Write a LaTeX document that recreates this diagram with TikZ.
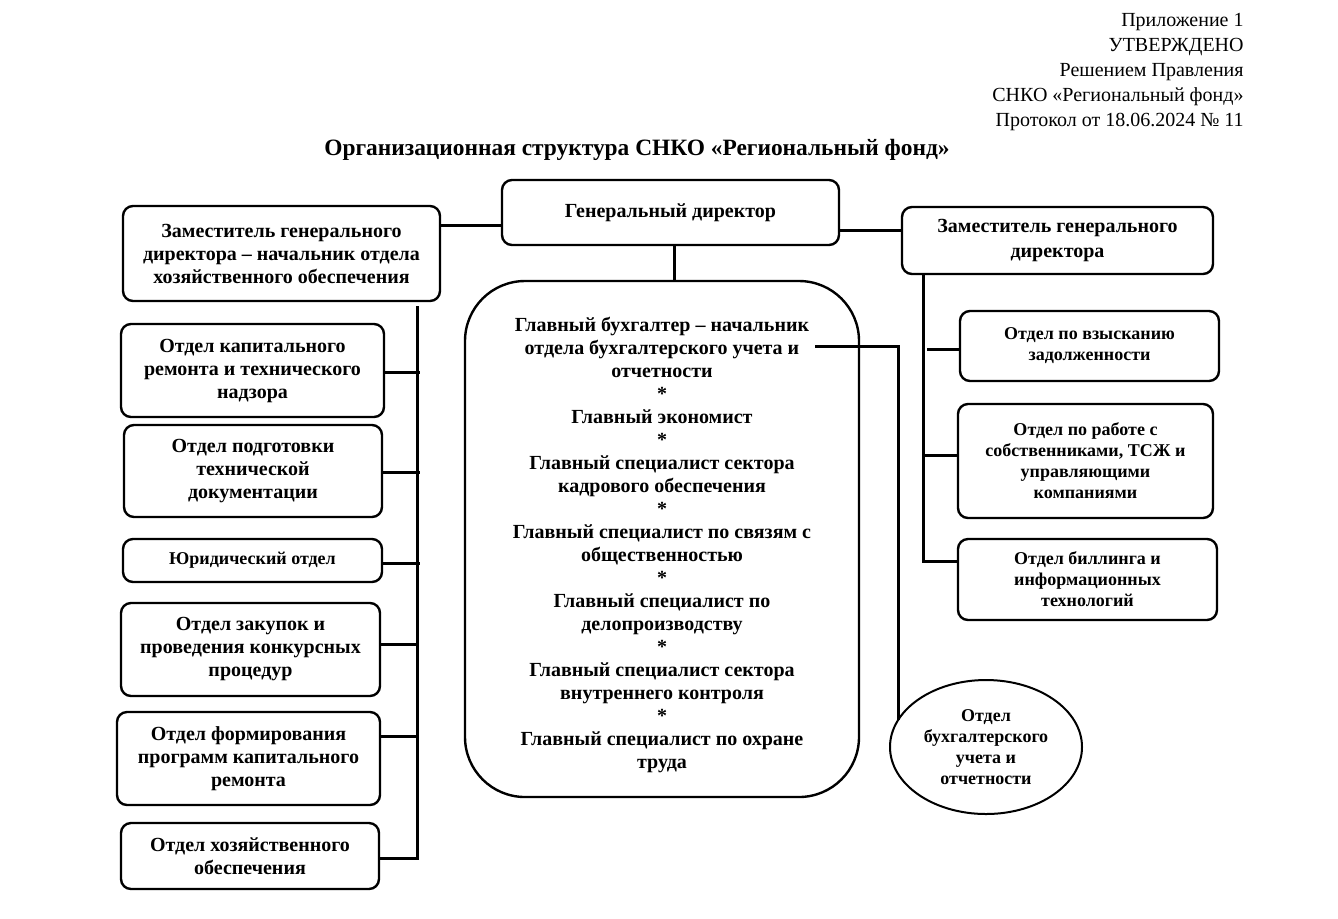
\documentclass[tikz,border=0pt]{standalone}
\usepackage{fontspec}
\setmainfont{Liberation Serif}
\usetikzlibrary{shapes.geometric}
\tikzset{
  box/.style={draw, line width=1.2pt, rounded corners=5pt, inner sep=0pt, align=center,
    font=\fontsize{10}{11.5}\selectfont\bfseries},
  sbox/.style={box, font=\fontsize{9}{10.5}\selectfont\bfseries},
  conn/.style={line width=1.5pt},
}
\begin{document}
\begin{tikzpicture}[x=0.5pt,y=-0.5pt]
\useasboundingbox (0,0) rectangle (1338,918);
% header
\node[anchor=east, align=right, inner sep=0pt, font=\fontsize{10}{12.5}\selectfont] (hdr) at (1244,72)
  {Приложение 1\\УТВЕРЖДЕНО\\Решением Правления\\СНКО «Региональный фонд»\\Протокол от 18.06.2024 № 11};
\node[inner sep=0pt, font=\fontsize{11.7}{14}\selectfont\bfseries] (title) at (637,150)
  {Организационная структура СНКО «Региональный фонд»};
% top level
\node[box, minimum width=168.5pt, minimum height=32.5pt] (gd) at (670.5,212.5) {Генеральный директор};
\node[box, minimum width=158.5pt, minimum height=47.5pt] (ld) at (281.5,253.5)
  {Заместитель генерального\\директора – начальник отдела\\хозяйственного обеспечения};
\node[box, minimum width=155.5pt, minimum height=33.5pt, font=\fontsize{10}{12.5}\selectfont\bfseries] (rd) at (1057.5,240.5)
  {Заместитель генерального\\директора};
% central
\node[box, rounded corners=30pt, minimum width=197pt, minimum height=258pt] (cb) at (662,539)
  {\rule{0pt}{13pt}Главный бухгалтер – начальник\\отдела бухгалтерского учета и\\отчетности\\*\\Главный экономист\\*\\
   Главный специалист сектора\\кадрового обеспечения\\*\\Главный специалист по связям с\\общественностью\\*\\
   Главный специалист по\\делопроизводству\\*\\Главный специалист сектора\\внутреннего контроля\\*\\
   Главный специалист по охране\\труда};
% right
\node[sbox, minimum width=129.5pt, minimum height=35pt] (r1) at (1089.5,346) {Отдел по взысканию\\задолженности};
\node[sbox, minimum width=127.5pt, minimum height=57pt] (r2) at (1085.5,461)
  {Отдел по работе с\\собственниками, ТСЖ и\\управляющими\\компаниями};
\node[sbox, minimum width=129.5pt, minimum height=40.5pt] (r3) at (1087.5,579.5)
  {Отдел биллинга и\\информационных\\технологий};
\node[draw, ellipse, line width=1pt, inner sep=0pt, minimum width=96pt, minimum height=67pt, align=center,
  font=\fontsize{9}{10.5}\selectfont\bfseries] (el) at (986,747)
  {Отдел\\бухгалтерского\\учета и\\отчетности};
% left
\node[box, minimum width=131.5pt, minimum height=46.5pt] (l1) at (252.5,370.5)
  {Отдел капитального\\ремонта и технического\\надзора};
\node[box, minimum width=129pt, minimum height=46pt] (l2) at (253,471)
  {Отдел подготовки\\технической\\документации};
\node[sbox, minimum width=129.5pt, minimum height=21.5pt] (l3) at (252.5,560.5) {Юридический отдел};
\node[box, minimum width=129.5pt, minimum height=46.5pt] (l4) at (250.5,649.5)
  {Отдел закупок и\\проведения конкурсных\\процедур};
\node[box, minimum width=131.5pt, minimum height=46.5pt] (l5) at (248.5,758.5)
  {Отдел формирования\\программ капитального\\ремонта};
\node[box, minimum width=129pt, minimum height=33pt] (l6) at (250,856)
  {Отдел хозяйственного\\обеспечения};
% coordinates
\coordinate (lt) at (417,860);
\coordinate (rt) at (923,561);
\coordinate (e1) at (815,346);
\coordinate (e2) at (898,346);
\path (gd.west) ++(0,12.5) coordinate (a1);
\path (gd.east) ++(0,17.5) coordinate (a2);
% connectors
\draw[conn] (a1) -- (a1 -| ld.east);
\draw[conn] (a2) -- (a2 -| rd.west);
\draw[conn] ([xshift=1.75pt]gd.south) -- ([xshift=1.75pt]gd.south |- cb.north);
\draw[conn] ([yshift=-2pt]ld.south -| lt) -- (lt);
\draw[conn] ([yshift=-0.75pt]l1.east) -- ([yshift=-0.75pt,xshift=1.5pt]l1.east -| lt);
\draw[conn] ([yshift=-0.5pt]l2.east) -- ([yshift=-0.5pt,xshift=1.5pt]l2.east -| lt);
\draw[conn] ([yshift=-1.25pt]l3.east) -- ([yshift=-1.25pt,xshift=1.5pt]l3.east -| lt);
\draw[conn] ([yshift=2.75pt]l4.east) -- ([yshift=2.75pt]l4.east -| lt);
\draw[conn] ([yshift=11.25pt]l5.east) -- ([yshift=11.25pt]l5.east -| lt);
\draw[conn] ([yshift=-1pt]l6.east) -- ([yshift=-1pt]l6.east -| lt);
\draw[conn] (rd.south -| rt) -- (rt) -- (rt -| r3.west);
\draw[conn] ([yshift=-1.5pt]r1.west) -- ([yshift=-1.5pt,xshift=2pt]r1.west -| rt);
\draw[conn] ([yshift=3pt]r2.west) -- ([yshift=3pt]r2.west -| rt);
\draw[conn] (e1) -- (e2) -- (e2 |- el.163);
\end{tikzpicture}
\end{document}
